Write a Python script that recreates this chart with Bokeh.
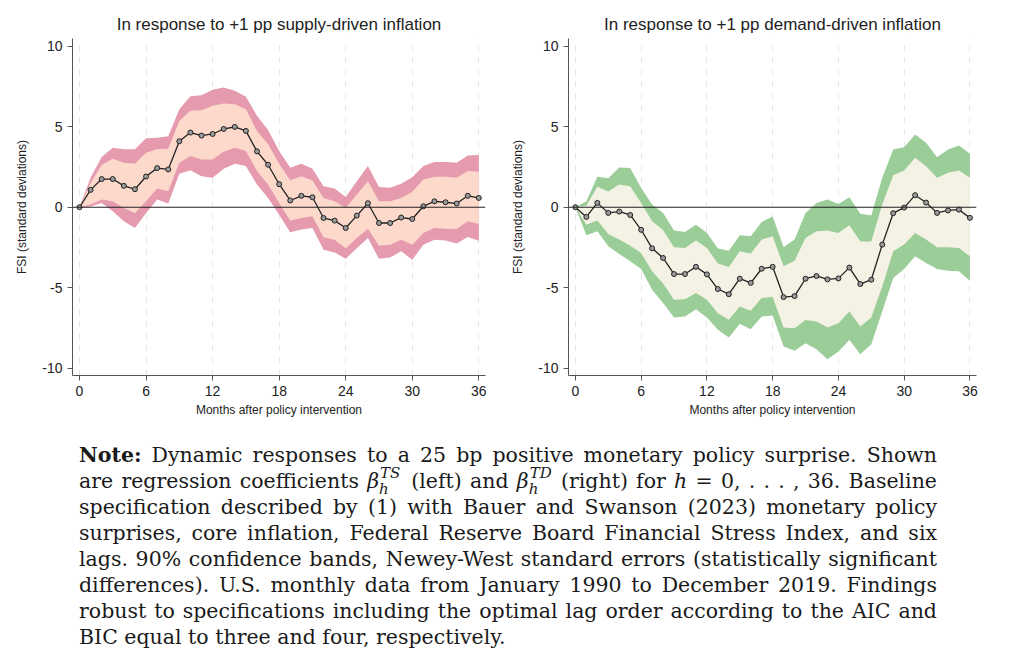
from bokeh.plotting import figure
from bokeh.models import Span, FixedTicker, Div
from bokeh.layouts import row, column
from bokeh.embed import file_html
from bokeh.resources import INLINE

months = list(range(37))

# left panel: supply-driven inflation
sup_irf = [0, 1.08, 1.75, 1.75, 1.33, 1.12, 1.91, 2.43, 2.35, 4.1, 4.64, 4.45, 4.55,
           4.86, 4.99, 4.74, 3.47, 2.64, 1.43, 0.42, 0.71, 0.62, -0.67, -0.83, -1.29,
           -0.52, 0.25, -0.98, -0.98, -0.64, -0.73, 0.06, 0.37, 0.31, 0.23, 0.71, 0.58]
sup_hi90 = [0, 1.83, 3.12, 3.7, 3.6, 3.6, 4.28, 4.32, 4.41, 6.09, 6.9, 6.96, 7.3,
            7.44, 7.23, 6.86, 5.68, 4.8, 3.49, 2.45, 2.7, 2.39, 1.31, 1.16, 0.64,
            1.62, 2.56, 1.25, 1.21, 1.46, 1.87, 2.56, 2.81, 2.81, 2.77, 3.22, 3.24]
sup_hi68 = [0, 1.5, 2.62, 3.01, 2.77, 2.7, 3.39, 3.6, 3.64, 5.36, 5.99, 6.03, 6.3,
            6.44, 6.4, 6.09, 4.74, 3.91, 2.7, 1.68, 1.93, 1.66, 0.58, 0.37, -0.04,
            0.79, 1.62, 0.37, 0.37, 0.58, 0.96, 1.73, 1.89, 1.89, 1.83, 2.25, 2.2]
sup_lo68 = [0, 0.17, 0.48, 0.37, -0.04, -0.35, 0.37, 1.16, 1.0, 2.77, 3.18, 2.97, 2.97,
            3.45, 3.7, 3.49, 2.25, 1.41, 0.27, -0.83, -0.67, -0.56, -1.87, -2.02, -2.54,
            -1.91, -1.33, -2.39, -2.33, -2.02, -2.33, -1.6, -1.29, -1.33, -1.35, -0.87, -1.04]
sup_lo90 = [0, 0.05, 0.27, -0.25, -0.87, -1.29, -0.35, 0.48, 0.23, 2.08, 2.29, 1.93, 1.83,
            2.39, 2.7, 2.56, 1.41, 0.58, -0.46, -1.56, -1.39, -1.29, -2.64, -2.81, -3.2,
            -2.54, -1.91, -3.2, -3.12, -2.74, -3.26, -2.33, -2.02, -2.06, -2.25, -1.85, -2.08]

# right panel: demand-driven inflation
dem_irf = [0, -0.6, 0.27, -0.35, -0.27, -0.48, -1.4, -2.55, -3.15, -4.15, -4.15, -3.7, -4.17,
           -5.08, -5.4, -4.44, -4.7, -3.82, -3.7, -5.58, -5.52, -4.44, -4.27, -4.48, -4.42,
           -3.75, -4.77, -4.5, -2.32, -0.37, -0.02, 0.75, 0.29, -0.35, -0.2, -0.15, -0.66]
dem_hi90 = [0, 0.37, 1.9, 1.8, 2.47, 2.43, 1.2, 0.17, -0.35, -1.45, -1.54, -1.08, -1.58,
            -2.57, -2.7, -1.74, -1.8, -0.91, -0.58, -2.49, -2.01, -0.35, 0.27, 0.48, 0.2,
            0.62, -0.41, -0.52, 1.83, 3.59, 3.73, 4.52, 4.0, 3.11, 3.59, 3.84, 3.32]
dem_hi68 = [0, 0.1, 1.27, 0.98, 1.41, 1.31, 0.27, -0.87, -1.41, -2.49, -2.53, -2.07, -2.53,
            -3.5, -3.71, -2.74, -2.88, -2.01, -1.8, -3.67, -3.32, -1.91, -1.49, -1.45, -1.6,
            -1.12, -2.12, -2.12, 0.17, 1.99, 2.28, 3.07, 2.55, 1.83, 2.14, 2.28, 1.83]
dem_lo68 = [0, -1.08, -0.83, -1.66, -2.01, -2.39, -2.84, -3.98, -4.73, -5.75, -5.71, -5.33, -5.75,
            -6.58, -6.99, -6.16, -6.43, -5.64, -5.58, -7.47, -7.51, -7.01, -7.1, -7.47, -7.2,
            -6.47, -7.41, -6.85, -4.92, -2.74, -2.32, -1.6, -2.01, -2.49, -2.49, -2.53, -3.05]
dem_lo90 = [0, -1.74, -1.49, -2.43, -2.9, -3.36, -3.84, -5.12, -5.95, -6.85, -6.78, -6.33, -6.85,
            -7.61, -8.09, -7.24, -7.57, -6.78, -6.72, -8.65, -8.92, -8.44, -8.82, -9.44, -8.96,
            -8.24, -9.13, -8.51, -6.47, -4.4, -3.84, -3.05, -3.46, -3.84, -3.94, -3.98, -4.56]

x_ticks = [0, 6, 12, 18, 24, 30, 36]
y_ticks = [-10, -5, 0, 5, 10]
y_tick_labels = {-10: "-10", -5: "-5", 0: "0", 5: "5", 10: "10"}

titles = ["In response to +1 pp supply-driven inflation",
          "In response to +1 pp demand-driven inflation"]

FONT = "Liberation Sans"


def irf_panel(title, irf, lo90, lo68, hi68, hi90, outer_col, inner_col, width, left):
    p = figure(width=width, height=420, title=title,
               x_range=(-0.63, 36.6), y_range=(-10.45, 10.48),
               output_backend="svg", toolbar_location=None,
               min_border_left=left, min_border_right=width - left - 413,
               min_border_top=38, min_border_bottom=45)
    p.outline_line_color = None
    p.background_fill_color = "white"
    p.title.align = "center"
    p.title.text_font = FONT
    p.title.text_font_size = "17px"
    p.title.text_font_style = "normal"
    p.title.text_color = "#222222"

    p.varea(x=months, y1=lo90, y2=hi90, fill_color=outer_col)
    p.varea(x=months, y1=lo68, y2=hi68, fill_color=inner_col)
    p.add_layout(Span(location=0, dimension="width", line_color="#222222", line_width=1.2))
    p.line(months, irf, line_color="#222222", line_width=1.3)
    p.scatter(months, irf, size=5, marker="circle", line_color="#222222",
              fill_color="#9a9a9a", line_width=1)

    p.xgrid.ticker = FixedTicker(ticks=x_ticks)
    p.xgrid.grid_line_color = "#e6e6e6"
    p.xgrid.grid_line_dash = "6 6"
    p.ygrid.grid_line_color = None

    for ax in (p.xaxis, p.yaxis):
        ax.axis_line_color = "#555555"
        ax.major_tick_line_color = "#555555"
        ax.minor_tick_line_color = None
        ax.major_tick_out = 5
        ax.major_tick_in = 0
        ax.major_label_text_font = FONT
        ax.major_label_text_font_size = "14px"
        ax.major_label_text_color = "#222222"
        ax.axis_label_text_font = FONT
        ax.axis_label_text_font_style = "normal"
        ax.axis_label_text_font_size = "12px"
        ax.axis_label_text_color = "#222222"

    p.xaxis.ticker = FixedTicker(ticks=x_ticks)
    p.yaxis.ticker = FixedTicker(ticks=y_ticks)
    p.yaxis.major_label_overrides = y_tick_labels
    p.xaxis.axis_label = "Months after policy intervention"
    p.yaxis.axis_label = "FSI (standard deviations)"
    p.xaxis.axis_label_standoff = 4
    p.yaxis.axis_label_standoff = 10
    p.yaxis.major_label_orientation = "horizontal"
    return p


left_p = irf_panel(titles[0], sup_irf, sup_lo90, sup_lo68, sup_hi68, sup_hi90,
                   "#e59aae", "#fdd9cb", 508, 72)
right_p = irf_panel(titles[1], dem_irf, dem_lo90, dem_lo68, dem_hi68, dem_hi90,
                    "#9acd98", "#f4f2e4", 489, 55)


def beta(sup):
    return ("<i>&beta;</i><span style='position:relative;display:inline-block;width:%dpx;"
            "height:1px;font-style:italic;font-size:15px;line-height:14px;'>"
            "<span style='position:absolute;left:1px;top:-21px;'>%s</span>"
            "<span style='position:absolute;left:0px;top:-5px;'>h</span></span>"
            % (len(sup) * 11 + 2, sup))


note_lines = [
    "<b>Note:</b> Dynamic responses to a 25 bp positive monetary policy surprise. Shown",
    "are regression coefficients " + beta("TS") + " (left) and " + beta("TD") +
    " (right) for <i>h</i> = 0, . . . , 36. Baseline",
    "specification described by (1) with Bauer and Swanson (2023) monetary policy",
    "surprises, core inflation, Federal Reserve Board Financial Stress Index, and six",
    "lags. 90% confidence bands, Newey-West standard errors (statistically significant",
    "differences). U.S. monthly data from January 1990 to December 2019. Findings",
    "robust to specifications including the optimal lag order according to the AIC and",
    "BIC equal to three and four, respectively.",
]
body = "".join(
    "<div style='text-align:justify;text-align-last:%s;height:26px;line-height:26px;'>%s</div>"
    % ("justify" if i < len(note_lines) - 1 else "left", ln)
    for i, ln in enumerate(note_lines))
html = ("<div style='margin-left:74px;margin-top:17px;width:858px;font-family:\"DejaVu Serif\";"
        "font-size:20.5px;color:#1a1a1a;'>" + body + "</div>")
note = Div(text=html, width=990, height=232)

layout = column(row(left_p, right_p), note)
open("out.html", "w").write(file_html(layout, INLINE))
